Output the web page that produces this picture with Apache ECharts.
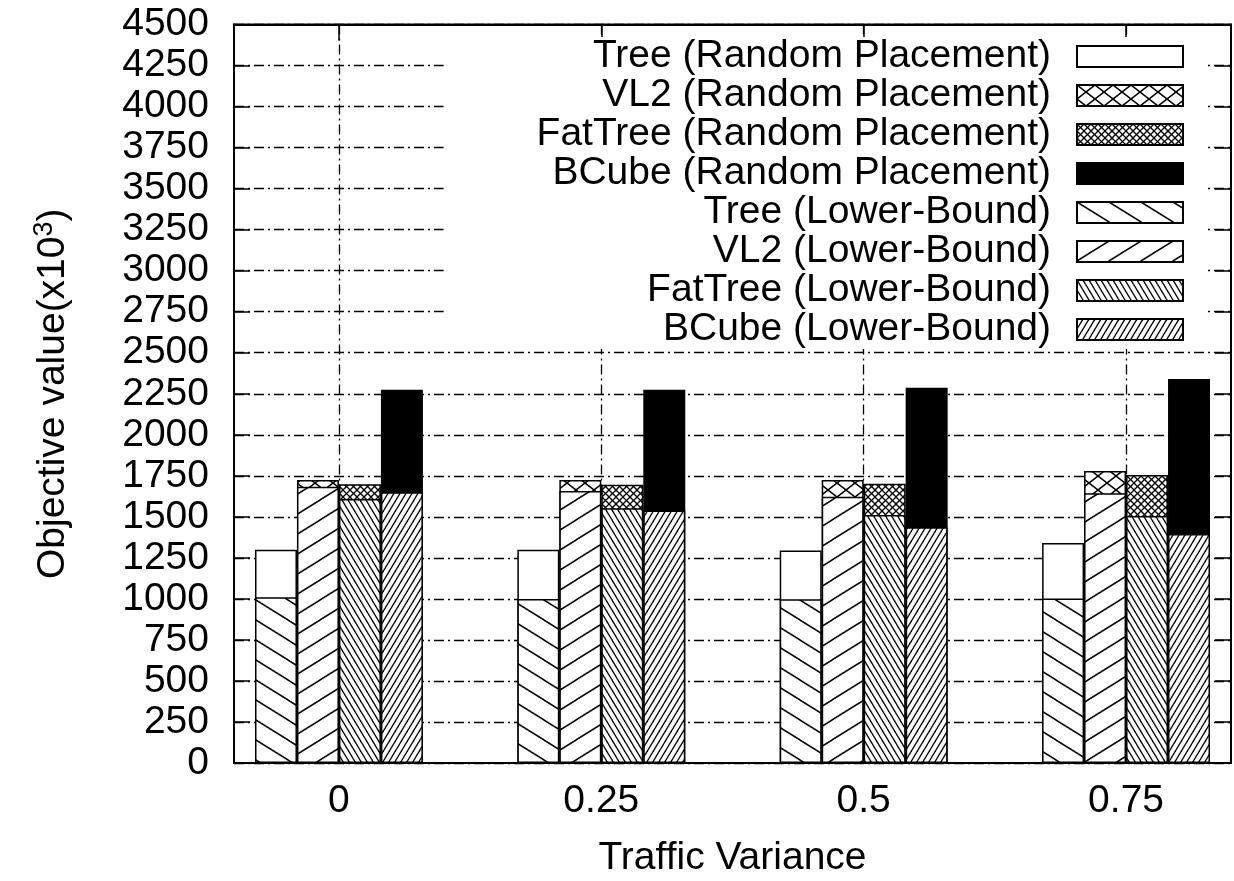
<!DOCTYPE html>
<html><head><meta charset="utf-8">
<script src="https://cdn.jsdelivr.net/npm/echarts@6/dist/echarts.min.js"></script>
<style>html,body{margin:0;padding:0;background:#fff}#c{width:1234px;height:881px}</style>
</head><body><div id="c"></div>
<script>
// ---- data ----
const categories = [0, 0.25, 0.5, 0.75];
const treeRandom    = [1300, 1300, 1295, 1340];
const vl2Random     = [1725, 1725, 1725, 1780];
const fatTreeRandom = [1698, 1695, 1702, 1755];
const bcubeRandom   = [2274, 2274, 2286, 2340];
const treeLower     = [1010, 1000,  998, 1003];
const vl2Lower      = [1684, 1657, 1623, 1643];
const fatTreeLower  = [1609, 1552, 1511, 1505];
const bcubeLower    = [1650, 1538, 1436, 1395];
const legendNames = [
  'Tree (Random Placement)', 'VL2 (Random Placement)', 'FatTree (Random Placement)', 'BCube (Random Placement)',
  'Tree (Lower-Bound)', 'VL2 (Lower-Bound)', 'FatTree (Lower-Bound)', 'BCube (Lower-Bound)'
];

// ---- patterns ----
const FONT = "'Liberation Sans', Arial, Helvetica, sans-serif";
function hatch(w, h, dirs, lw) {
  const c = document.createElement('canvas');
  c.width = w; c.height = h;
  const ctx = c.getContext('2d');
  ctx.fillStyle = '#fff'; ctx.fillRect(0, 0, w, h);
  ctx.strokeStyle = '#000'; ctx.lineWidth = lw;
  for (const d of dirs) {
    for (const dy of [-h, 0, h]) {
      ctx.beginPath();
      if (d === 'back') { ctx.moveTo(-w, dy - h); ctx.lineTo(2 * w, dy + 2 * h); }
      else { ctx.moveTo(-w, dy + 2 * h); ctx.lineTo(2 * w, dy - h); }
      ctx.stroke();
    }
  }
  return { image: c, repeat: 'repeat' };
}
const fills = {
  treeR: '#ffffff',
  vl2R: hatch(18, 14, ['back', 'fwd'], 1.5),
  fatR: hatch(7, 7, ['back', 'fwd'], 1.3),
  bcubeR: '#000000',
  treeL: hatch(32, 20, ['back'], 1.5),
  vl2L: hatch(32, 20, ['fwd'], 1.5),
  fatL: hatch(6, 10, ['back'], 1.3),
  bcubeL: hatch(6, 10, ['fwd'], 1.3)
};

function pairs(vals) { return categories.map((c, i) => [c, vals[i]]); }
// Random-placement bars live on x axis 0, lower-bound bars on x axis 1 (same range),
// so each lower-bound bar is laid out at the same place and drawn over its random-placement bar.
function bar(name, axis, data, fill) {
  return {
    name, type: 'bar', xAxisIndex: axis, yAxisIndex: 0, data, barWidth: '16%', barGap: '0%',
    itemStyle: { color: fill, borderColor: '#000', borderWidth: 1.5 },
    emphasis: { disabled: true }, animation: false
  };
}

const dashDot = { color: '#000', width: 1.3, type: [10, 4, 2, 4] };
const chart = echarts.init(document.getElementById('c'), null, { renderer: 'canvas' });
chart.setOption({
  animation: false,
  backgroundColor: '#fff',
  textStyle: { fontFamily: FONT },
  grid: { left: 234, right: 3, top: 24.5, bottom: 118, containLabel: false, outerBoundsMode: 'none',
          show: true, borderColor: '#000', borderWidth: 2, backgroundColor: 'transparent' },
  legend: {
    orient: 'vertical', right: 28, top: 37, align: 'right', icon: 'rect',
    itemWidth: 106, itemHeight: 21, itemGap: 0,
    padding: [0, 22, 0, 93], backgroundColor: '#fff', selectedMode: false,
    itemStyle: { borderColor: '#000', borderWidth: 2 },
    textStyle: { fontSize: 39, fontFamily: FONT, color: '#000', lineHeight: 39, padding: [0, 21, 0, 0] },
    data: legendNames
  },
  xAxis: [{
    type: 'value', min: -0.1, max: 0.85, position: 'bottom',
    axisLine: { show: true, onZero: false, lineStyle: { color: '#000', width: 2 } },
    axisTick: { show: true, inside: true, length: 16, customValues: categories, lineStyle: { color: '#000', width: 1.5 } },
    axisLabel: { customValues: categories, fontSize: 39, color: '#000', margin: 19, fontFamily: FONT, formatter: v => String(v) },
    splitLine: { show: true, lineStyle: dashDot },
    name: 'Traffic Variance', nameLocation: 'middle', nameGap: 76,
    nameTextStyle: { fontSize: 39, color: '#000', fontFamily: FONT }
  }, {
    type: 'value', min: -0.1, max: 0.85, position: 'top',
    axisLine: { show: true, onZero: false, lineStyle: { color: '#000', width: 2 } },
    axisTick: { show: true, inside: true, length: 16, customValues: categories, lineStyle: { color: '#000', width: 1.5 } },
    axisLabel: { show: false }, splitLine: { show: false }
  }],
  yAxis: [{
    type: 'value', min: 0, max: 4500, interval: 250, position: 'left',
    axisLine: { show: true, onZero: false, lineStyle: { color: '#000', width: 2 } },
    axisTick: { show: true, inside: true, length: 16, lineStyle: { color: '#000', width: 1.5 } },
    axisLabel: { fontSize: 39, color: '#000', margin: 25, fontFamily: FONT, formatter: v => String(v) },
    splitLine: { show: true, lineStyle: dashDot },
    name: 'Objective value(x10{sup|3})', nameLocation: 'middle', nameGap: 158,
    nameTextStyle: { fontSize: 39, color: '#000', fontFamily: FONT,
      rich: { sup: { fontSize: 27, color: '#000', fontFamily: FONT, verticalAlign: 'bottom', padding: [0, 0, 18, 0] } } }
  }, {
    type: 'value', min: 0, max: 4500, interval: 250, position: 'right',
    axisLine: { show: true, onZero: false, lineStyle: { color: '#000', width: 2 } },
    axisTick: { show: true, inside: true, length: 16, lineStyle: { color: '#000', width: 1.5 } },
    axisLabel: { show: false }, splitLine: { show: false }
  }],
  series: [
    bar('Tree (Random Placement)', 0, pairs(treeRandom), fills.treeR),
    bar('VL2 (Random Placement)', 0, pairs(vl2Random), fills.vl2R),
    bar('FatTree (Random Placement)', 0, pairs(fatTreeRandom), fills.fatR),
    bar('BCube (Random Placement)', 0, pairs(bcubeRandom), fills.bcubeR),
    bar('Tree (Lower-Bound)', 1, pairs(treeLower), fills.treeL),
    bar('VL2 (Lower-Bound)', 1, pairs(vl2Lower), fills.vl2L),
    bar('FatTree (Lower-Bound)', 1, pairs(fatTreeLower), fills.fatL),
    bar('BCube (Lower-Bound)', 1, pairs(bcubeLower), fills.bcubeL)
  ]
});
</script></body></html>
